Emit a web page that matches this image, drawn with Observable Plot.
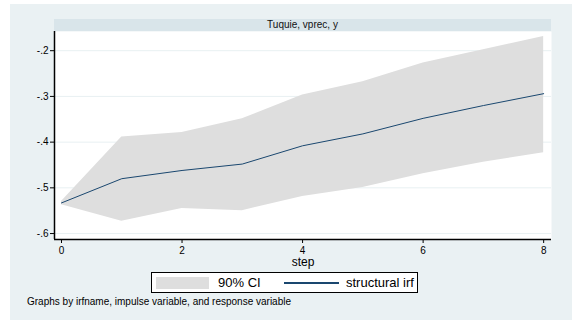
<!DOCTYPE html>
<html>
<head>
<meta charset="utf-8">
<script src="https://cdn.jsdelivr.net/npm/d3@7"></script>
<script src="https://cdn.jsdelivr.net/npm/@observablehq/plot@0.6"></script>
<style>
  html, body { margin: 0; padding: 0; background: #ffffff; }
  body { width: 572px; height: 326px; position: relative; overflow: hidden; font-family: "Liberation Sans", Arial, sans-serif; }
  #bg { position: absolute; left: 10px; top: 4px; width: 562px; height: 316px; background: #eaf1f3; }
  #chart { position: absolute; left: 0; top: 0; }
  #strip { position: absolute; left: 54px; top: 19px; width: 497px; height: 12px; background: #d9e5ea; font-size: 10px; line-height: 12px; text-align: center; color: #111; }
  #legend { position: absolute; left: 151px; top: 272px; width: 265px; height: 19px; border: 1px solid #000; background: #fff; }
  .sw { position: absolute; }
  .lt { position: absolute; font-size: 13px; line-height: 19px; top: 0; color: #000; }
  #caption { position: absolute; left: 27px; top: 296px; font-size: 10px; color: #000; }
</style>
</head>
<body>
<div id="bg"></div>
<div id="chart"></div>
<div id="strip">Tuquie, vprec, y</div>
<div id="legend">
  <div class="sw" style="left:4px; top:4px; width:53px; height:12px; background:#dedede;"></div>
  <div class="lt" style="left:66px;">90% CI</div>
  <div class="sw" style="left:132px; top:9px; width:55px; height:1.5px; background:#1a476f;"></div>
  <div class="lt" style="left:194px;">structural irf</div>
</div>
<div id="caption">Graphs by irfname, impulse variable, and response variable</div>
<script>
const steps = [0, 1, 2, 3, 4, 5, 6, 7, 8];
const irf   = [-0.533, -0.480, -0.462, -0.448, -0.408, -0.382, -0.348, -0.320, -0.294];
const lower = [-0.537, -0.573, -0.545, -0.550, -0.519, -0.499, -0.469, -0.444, -0.423];
const upper = [-0.530, -0.389, -0.379, -0.349, -0.297, -0.268, -0.227, -0.198, -0.169];
const xTicks = [0, 2, 4, 6, 8];
const yTicks = [-0.6, -0.5, -0.4, -0.3, -0.2];
const stepLabel = "step";

const data = steps.map((s, i) => ({step: s, irf: irf[i], lo: lower[i], hi: upper[i]}));
const xDom = [-0.116, 8.13];
const yDom = [-0.613, -0.158];
const fmt = d => d.toFixed(1).replace("0.", ".");

const chart = Plot.plot({
  width: 572,
  height: 326,
  marginLeft: 54,
  marginRight: 21,
  marginTop: 31,
  marginBottom: 87,
  x: {domain: xDom},
  y: {domain: yDom},
  style: {background: "transparent", fontFamily: "Liberation Sans, Arial, sans-serif", fontSize: "10px", color: "#000"},
  marks: [
    Plot.frame({fill: "white", stroke: null}),
    Plot.gridY(yTicks, {stroke: "#e8f0f2", strokeOpacity: 1, strokeWidth: 1}),
    Plot.areaY(data, {x: "step", y1: "lo", y2: "hi", fill: "#dedede", curve: "linear"}),
    Plot.lineY(data, {x: "step", y: "irf", stroke: "#1a476f", strokeWidth: 1}),
    Plot.axisY({ticks: yTicks, tickFormat: fmt, tickSize: 4, tickPadding: 2, label: null, stroke: "#000"}),
    Plot.axisX({ticks: xTicks, tickFormat: d => String(d), tickSize: 4, tickPadding: 3, label: null, stroke: "#000"}),
    Plot.ruleX([xDom[0]], {stroke: "#000", strokeWidth: 1.5}),
    Plot.ruleY([yDom[0]], {stroke: "#000", strokeWidth: 1.5}),
    Plot.text([stepLabel], {frameAnchor: "bottom", dy: 26, text: d => d, fontSize: 12})
  ]
});
document.getElementById("chart").appendChild(chart);
</script>
</body>
</html>
